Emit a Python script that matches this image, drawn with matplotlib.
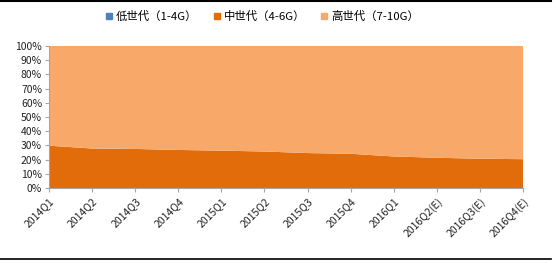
import matplotlib.pyplot as plt
import numpy as np
from matplotlib.lines import Line2D
from matplotlib.ticker import FuncFormatter

plt.rcParams['font.family'] = ['Noto Sans CJK SC', 'DejaVu Sans']

# Data (share of each generation, %)
quarters = ['2014Q1', '2014Q2', '2014Q3', '2014Q4', '2015Q1', '2015Q2',
            '2015Q3', '2015Q4', '2016Q1', '2016Q2(E)', '2016Q3(E)', '2016Q4(E)']
low_gen = [0, 0, 0, 0, 0, 0, 0, 0, 0, 0, 0, 0]
mid_gen = [29.8, 27.8, 27.5, 26.8, 26.3, 25.7, 24.6, 24.1, 22.2, 21.3, 20.6, 20.3]
high_gen = [100 - a - b for a, b in zip(low_gen, mid_gen)]
labels = ['低世代（1-4G）', '中世代（4-6G）', '高世代（7-10G）']
colors = ['#4F81BD', '#E26B0A', '#F8A96A']

fig = plt.figure(figsize=(5.56, 2.63), dpi=100)
ax = fig.add_axes([49 / 556, 75 / 263, 474 / 556, 142 / 263])

x = np.arange(len(quarters))
ax.stackplot(x, low_gen, mid_gen, high_gen, colors=colors, linewidth=0)

ax.set_xlim(0, len(quarters) - 1)
ax.set_ylim(0, 100)
ax.set_yticks(np.arange(0, 101, 10))
ax.yaxis.set_major_formatter(FuncFormatter(lambda v, p: f'{v:.0f}%'))
ax.set_xticks(x)
ax.set_xticklabels(quarters, rotation=45, ha='right', rotation_mode='anchor')

for s in ['top', 'right']:
    ax.spines[s].set_visible(False)
for s in ['left', 'bottom']:
    ax.spines[s].set_color('#A6A6A6')
    ax.spines[s].set_linewidth(0.8)
ax.tick_params(axis='both', colors='#A6A6A6', labelcolor='#222222',
               labelsize=7.5, length=3, width=0.8, pad=2)
ax.tick_params(axis='x', pad=3)

handles = [Line2D([], [], marker='s', linestyle='', markersize=5,
                  markerfacecolor=c, markeredgecolor=c) for c in colors]
fig.legend(handles, labels, loc='center', bbox_to_anchor=(0.471, 1 - 16 / 263),
           ncol=3, frameon=False, fontsize=8.2, handletextpad=0.2,
           columnspacing=1.3, handlelength=0.8)

# frame lines of the report page
fig.add_artist(Line2D([0, 551 / 556], [1 - 1 / 263, 1 - 1 / 263],
                      color='black', linewidth=1.5, transform=fig.transFigure))
fig.add_artist(Line2D([0, 551 / 556], [1 - 259 / 263, 1 - 259 / 263],
                      color='black', linewidth=1.2, transform=fig.transFigure))

fig.savefig('out.png', dpi=100)
